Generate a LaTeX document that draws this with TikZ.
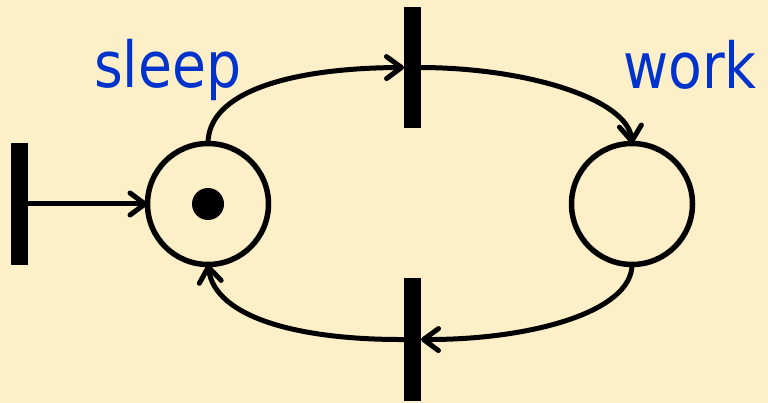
\documentclass[tikz,border=0pt]{standalone}
\usepackage{fontspec}
\usetikzlibrary{arrows.meta}
\newfontfamily\labfont[FakeStretch=0.87]{DejaVu Sans}
\definecolor{bgcream}{RGB}{253,239,199}
\definecolor{labblue}{RGB}{0,51,204}
\begin{document}
\begin{tikzpicture}[x=1pt,y=-1pt,
  place/.style={circle,draw=black,line width=5.5pt,minimum size=121pt,inner sep=0pt,outer sep=0pt},
  trans/.style={rectangle,fill=black,minimum width=17pt,inner sep=0pt,outer sep=0pt},
  token/.style={circle,fill=black,minimum size=32pt,inner sep=0pt},
  arc/.style={line width=5pt,line cap=round,-{Straight Barb[length=15pt,width=22pt,line cap=round,line join=round]}},
  lab/.style={anchor=base west,inner sep=0pt,text=labblue,font=\labfont\fontsize{63.5}{63.5}\selectfont}]
\fill[bgcream] (0,0) rectangle (768,403);
\useasboundingbox (0,0) rectangle (768,403);
\node[place] (sleep) at (208,204) {};
\node[token] (tok) at (208,204) {};
\node[place] (work) at (632,204) {};
\node[trans,minimum height=122pt] (tin) at (19,204) {};
\node[trans,minimum height=121pt] (ttop) at (412.5,67.5) {};
\node[trans,minimum height=123pt] (tbot) at (412.5,339.5) {};
\node[lab] (lsleep) at (94,88) {sleep};
\node[lab] (lwork) at (623,89) {work};
\draw[arc] (tin.east) -- (sleep.west);
\draw[arc] (sleep.north) .. controls (208,92) and (290,68) .. (ttop.west);
\draw[arc] (ttop.east) .. controls (530,68) and (628,100) .. (work.north);
\draw[arc] (work.south) .. controls (632,312) and (530,340) .. (tbot.east);
\draw[arc] (tbot.west) .. controls (300,340) and (215,318) .. (sleep.south);
\end{tikzpicture}
\end{document}
